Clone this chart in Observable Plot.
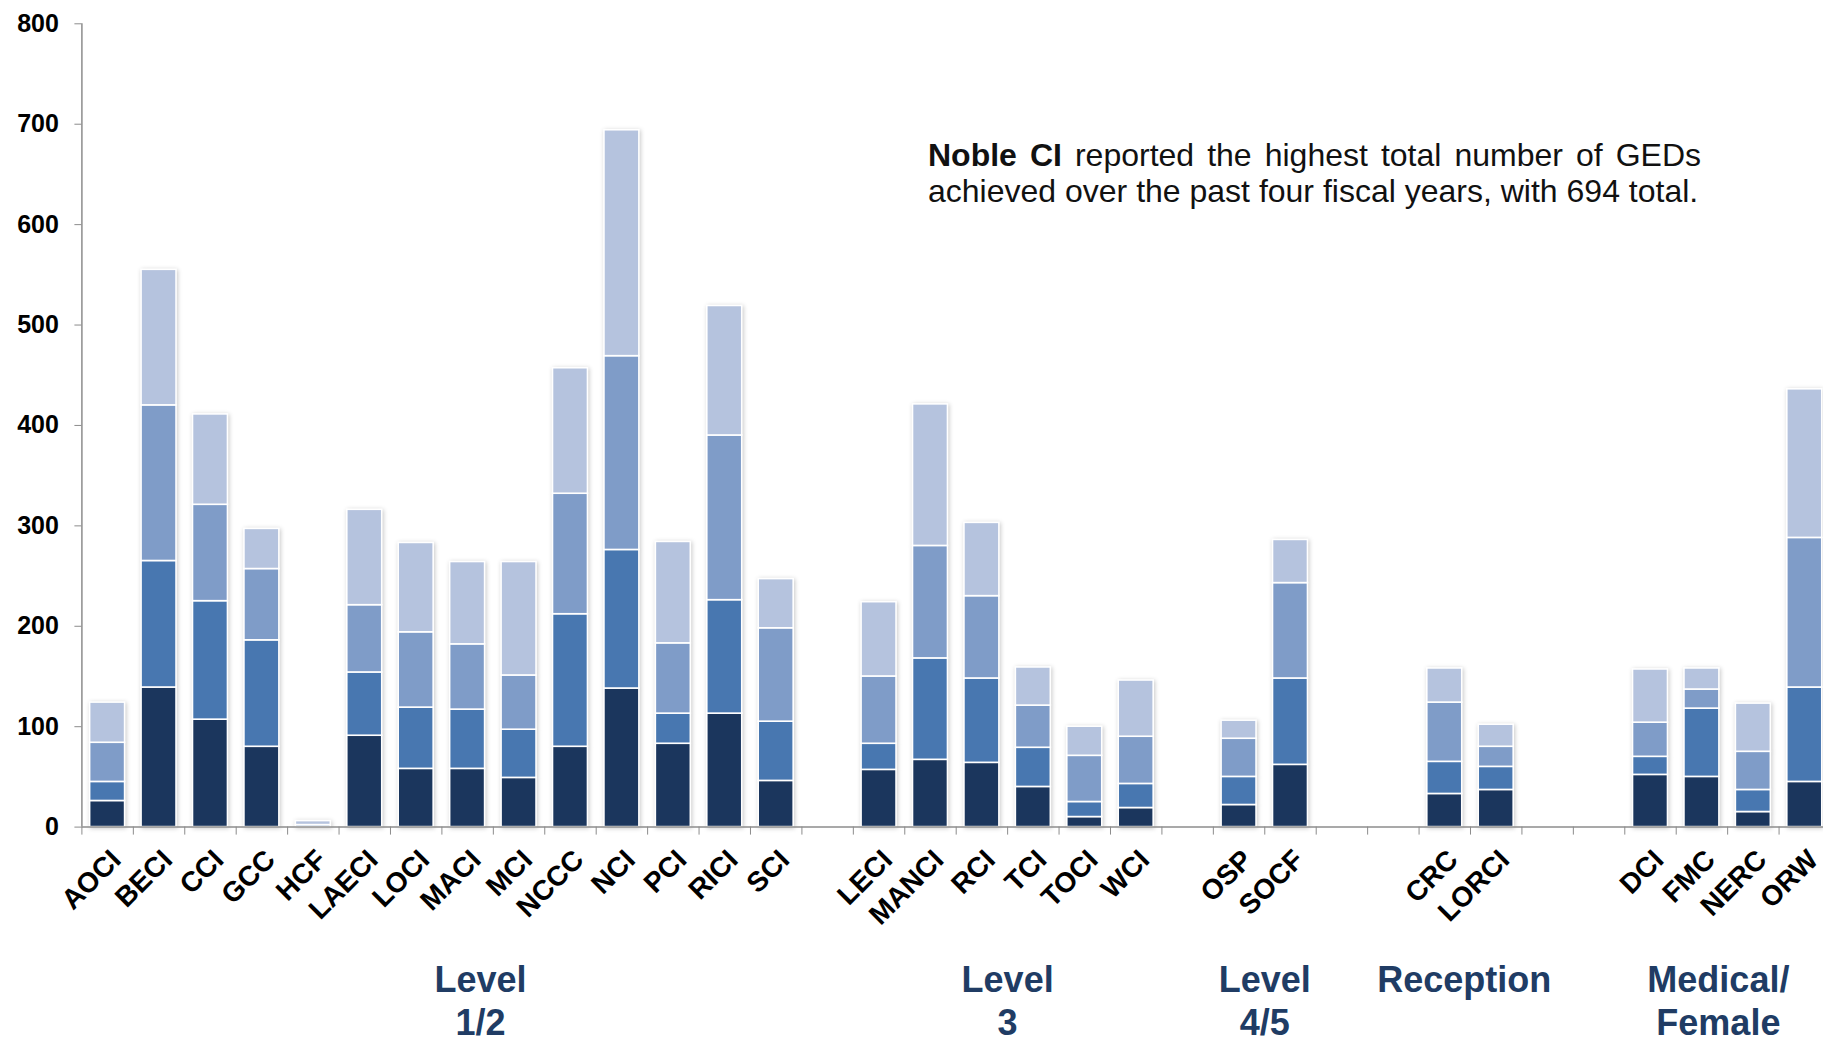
<!DOCTYPE html>
<html>
<head>
<meta charset="utf-8">
<script src="https://cdn.jsdelivr.net/npm/d3@7"></script>
<script src="https://cdn.jsdelivr.net/npm/@observablehq/plot@0.6"></script>
<style>
  html, body { margin: 0; padding: 0; background: #fff; overflow: hidden; }
  #wrap { position: relative; width: 1823px; height: 1037px; overflow: hidden; }
  #chart svg { max-width: none !important; }
  #note {
    position: absolute; left: 928px; top: 137px; width: 773px;
    font-family: "Liberation Sans", Arial, sans-serif; font-size: 32px; line-height: 36px; color: #111;
  }
  #note .l1 { text-align: justify; text-align-last: justify; }
</style>
</head>
<body>
<div id="wrap">
  <div id="chart"></div>
  <div id="note">
    <div class="l1"><b>Noble CI</b> reported the highest total number of GEDs</div>
    <div class="l2">achieved over the past four fiscal years, with 694 total.</div>
  </div>
</div>
<script>
// Categories (facilities), in order, by security-level group
const categories = ["AOCI","BECI","CCI","GCC","HCF","LAECI","LOCI","MACI","MCI","NCCC","NCI","PCI","RICI","SCI",
                    "LECI","MANCI","RCI","TCI","TOCI","WCI",
                    "OSP","SOCF",
                    "CRC","LORCI",
                    "DCI","FMC","NERC","ORW"];
const groups = ["Level\n1/2", "Level\n3", "Level\n4/5", "Reception", "Medical/\nFemale"];
const groupSizes = [14, 6, 2, 2, 4];
const gapsAfter = [1, 1, 2, 2, 0];

// Four fiscal years, stacked bottom (darkest) to top (lightest)
const seriesNames = ["Year 1", "Year 2", "Year 3", "Year 4"];
const year1 = [26,139,107,80,0,91,58,58,49,80,138,83,113,46, 57,67,64,40,10,19, 22,62, 33,37, 52,50,15,45];
const year2 = [19,126,118,106,0,63,61,59,48,132,138,30,113,59, 26,101,84,39,15,24, 28,86, 32,23, 18,68,22,94];
const year3 = [39,155,96,71,2,67,75,65,54,120,193,70,164,93, 67,112,82,42,46,47, 38,95, 59,20, 34,19,38,149];
const year4 = [40,135,90,40,4,95,89,82,113,125,225,101,129,49, 74,141,73,38,29,56, 18,43, 34,22, 53,21,48,148];
const seriesColors = ["#1b365d", "#4877b0", "#7f9cc8", "#b5c3de"];
const yTicks = [0,100,200,300,400,500,600,700,800];

// slot index of every category (groups separated by empty slots)
const slots = [];
const groupRanges = [];
{
  let s = 0;
  groupSizes.forEach((n, gi) => {
    const start = s;
    for (let k = 0; k < n; k++) slots.push(s++);
    groupRanges.push([start, s]);
    s += gapsAfter[gi];
  });
}
const nSlots = slots[slots.length - 1] + 1;

const seriesValues = [year1, year2, year3, year4];
const tidy = [];
categories.forEach((c, i) => {
  let acc = 0;
  seriesValues.forEach((vals, si) => {
    const v = vals[i];
    tidy.push({cat: c, slot: slots[i], series: seriesNames[si], y1: acc, y2: acc + v});
    acc += v;
  });
});

// group label placement: centre of the group's slots, with small layout nudges
const labelNudge = [0.75, 0, 0, -0.12, -0.18];
const groupData = groups.map((g, gi) => ({
  label: g,
  center: (groupRanges[gi][0] + groupRanges[gi][1]) / 2 + labelNudge[gi]
}));

const axisColor = "#8c8c8c";
const chart = Plot.plot({
  width: 1830, height: 1037,
  marginLeft: 81.4, marginRight: 0, marginTop: 23.3, marginBottom: 210.4,
  x: {domain: [0, nSlots]},
  y: {domain: [0, 800]},
  color: {domain: seriesNames, range: seriesColors},
  style: {fontFamily: "'Liberation Sans', Arial, sans-serif", background: "white", overflow: "visible", maxWidth: "none"},
  marks: [
    Plot.rect(tidy, {
      x1: d => d.slot + 0.16, x2: d => d.slot + 0.84,
      y1: "y1", y2: "y2", fill: "series", stroke: "white", strokeWidth: 1.6
    }),
    Plot.ruleX([0], {y1: 0, y2: 800, stroke: axisColor, strokeWidth: 1.5}),
    Plot.ruleY([0], {x1: 0, x2: nSlots, stroke: axisColor, strokeWidth: 1.5}),
    Plot.axisY({ticks: yTicks, tickSize: 7, tickPadding: 16, fontSize: 25, fontWeight: "bold",
                stroke: axisColor, fill: "black", label: null}),
    Plot.axisX({ticks: d3.range(0, nSlots + 1), tickSize: 8, tickFormat: () => "",
                stroke: axisColor, label: null}),
    Plot.text(categories, {
      x: (d, i) => slots[i] + 0.5, y: 0, text: d => d,
      rotate: -45, textAnchor: "end", dx: 8.5, dy: 28,
      fontSize: 28, fontWeight: "bold", fill: "black"
    }),
    Plot.text(groupData, {
      x: "center", y: 0, text: "label", lineAnchor: "top", dy: 134,
      fontSize: 36, lineHeight: 1.2, fontWeight: "bold", fill: "#203c64"
    })
  ]
});
document.getElementById("chart").appendChild(chart);
const rg = chart.querySelector('g[aria-label="rect"]');
if (rg) rg.style.filter = "drop-shadow(1px 1px 2px rgba(0,0,0,0.22))";
</script>
</body>
</html>
